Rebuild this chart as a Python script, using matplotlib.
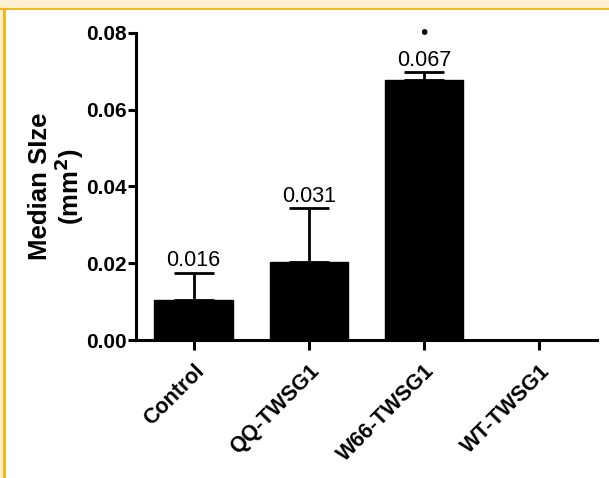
import matplotlib
matplotlib.use("Agg")
import matplotlib.pyplot as plt
from matplotlib.patches import Rectangle

# data
groups = ["Control", "QQ-TWSG1", "W66-TWSG1", "WT-TWSG1"]
medians = [0.0104, 0.0203, 0.0677, 0.0]
err_up = [0.0071, 0.0141, 0.0021, 0.0]
labels = ["0.016", "0.031", "0.067", ""]
y_ticks = [0.00, 0.02, 0.04, 0.06, 0.08]

plt.rcParams['font.family'] = ['Liberation Sans', 'DejaVu Sans']

fig = plt.figure(figsize=(6.09, 4.78), dpi=100)
fig.patch.set_facecolor("white")

# cream/orange frame at top and left, as in the source page
W, H = 609.0, 478.0
cream = "#fdefd0"
orange = "#f4b819"
fig.patches.append(Rectangle((0, 1 - 8 / H), 1, 8 / H, transform=fig.transFigure,
                             facecolor=cream, edgecolor="none", zorder=0))
fig.patches.append(Rectangle((0, 1 - 10 / H), 1, 2.5 / H, transform=fig.transFigure,
                             facecolor=orange, edgecolor="none", zorder=1))
fig.patches.append(Rectangle((0, 0), 3 / W, 1 - 10 / H, transform=fig.transFigure,
                             facecolor=cream, edgecolor="none", zorder=0))
fig.patches.append(Rectangle((3 / W, 0), 2.5 / W, 1 - 8 / H, transform=fig.transFigure,
                             facecolor=orange, edgecolor="none", zorder=1))

ax = fig.add_axes([136 / W, 138 / H, 461 / W, 307 / H])
ax.set_facecolor("white")

x = range(len(groups))
ax.bar(x, medians, width=0.68, color="black", edgecolor="black", zorder=2)
ax.errorbar(x, medians, yerr=[[0] * len(groups), err_up], fmt="none",
            ecolor="black", elinewidth=2.0, capsize=14.5, capthick=2.0, zorder=3)

for i, lab in enumerate(labels):
    if lab:
        ax.annotate(lab, (i, medians[i] + err_up[i]), xytext=(0, 1),
                    textcoords="offset points", ha="center", va="bottom",
                    fontsize=15.5)

# significance mark above W66
ax.annotate("\u2022", (2, medians[2] + err_up[2]), xytext=(0, 28),
            textcoords="offset points", ha="center", va="center", fontsize=15)

ax.set_xlim(-0.5, 3.5)
ax.set_ylim(0, 0.08)
ax.set_yticks(y_ticks)
ax.set_yticklabels([f"{v:.2f}" for v in y_ticks], fontsize=15, fontweight="bold")
ax.set_xticks(list(x))
ax.set_xticklabels(groups, rotation=45, ha="right", rotation_mode="anchor",
                   fontsize=15.5, fontweight="bold")

for side in ["top", "right"]:
    ax.spines[side].set_visible(False)
for side in ["left", "bottom"]:
    ax.spines[side].set_linewidth(2.2)
ax.tick_params(axis="y", length=6, width=2.2, pad=1)
ax.tick_params(axis="x", length=7, width=2.2, pad=8)

ax.set_ylabel("Median SIze\n(mm$^\\mathbf{2}$)", fontsize=18.5, fontweight="bold",
              linespacing=1.0, labelpad=0)

fig.savefig("out.png", dpi=100, facecolor=fig.get_facecolor())
